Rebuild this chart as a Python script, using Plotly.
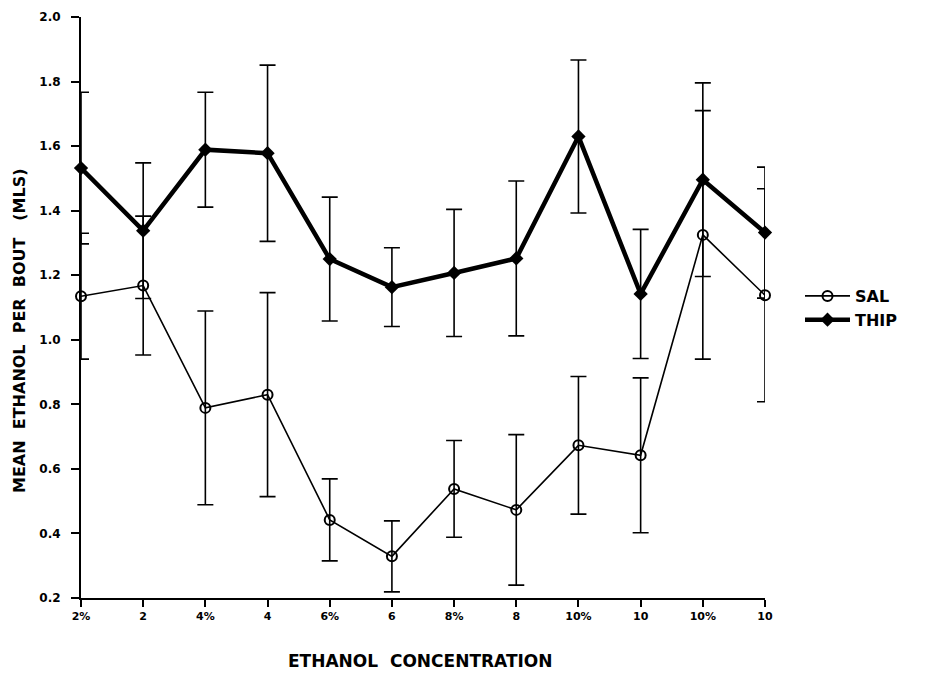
import plotly.graph_objects as go

categories = ["2%", "2", "4%", "4", "6%", "6", "8%", "8", "10%", "10", "10%", "10"]
sal_mean = [1.135, 1.168, 0.789, 0.830, 0.442, 0.329, 0.538, 0.473, 0.673, 0.642, 1.325, 1.138]
sal_err = [0.195, 0.215, 0.300, 0.316, 0.127, 0.110, 0.150, 0.233, 0.213, 0.240, 0.385, 0.330]
thip_mean = [1.532, 1.338, 1.589, 1.578, 1.250, 1.163, 1.207, 1.252, 1.630, 1.142, 1.496, 1.332]
thip_err = [0.235, 0.210, 0.178, 0.273, 0.192, 0.122, 0.197, 0.240, 0.237, 0.200, 0.300, 0.203]
y_ticks = [0.2, 0.4, 0.6, 0.8, 1.0, 1.2, 1.4, 1.6, 1.8, 2.0]

xpos = list(range(len(categories)))
FONT = "DejaVu Sans"

# page body has an 8px margin; plot area target (window px): x 81..765, y 17..598
OFF = 8
L, R, T, B = 81 - OFF, 949 - (765 - OFF), 17 - OFF, 681 - (598 - OFF)

fig = go.Figure()
fig.add_trace(go.Scatter(
    x=xpos, y=sal_mean, name="SAL", mode="lines+markers",
    line=dict(color="black", width=1.6),
    marker=dict(symbol="circle-open", size=10, color="black", line=dict(width=2)),
    error_y=dict(type="data", array=sal_err, visible=True, color="black", thickness=1.6, width=8),
    cliponaxis=False,
))
fig.add_trace(go.Scatter(
    x=xpos, y=thip_mean, name="THIP", mode="lines+markers",
    line=dict(color="black", width=4.5),
    marker=dict(symbol="diamond", size=11, color="black"),
    error_y=dict(type="data", array=thip_err, visible=True, color="black", thickness=1.6, width=8),
    cliponaxis=False,
))

pw = 949 - L - R
ph = 681 - T - B

def px2paper(px, py):
    return (px - OFF - L) / pw, (681 - B - (py - OFF)) / ph

ax_x, ax_y = px2paper(420, 661)
ay_x, ay_y = px2paper(19, 331)
lg_x, lg_y = px2paper(800, 308)

fig.update_layout(
    width=949, height=681,
    margin=dict(l=L, r=R, t=T, b=B, autoexpand=False),
    paper_bgcolor="white", plot_bgcolor="white",
    font=dict(family=FONT, color="black"),
    showlegend=True,
    legend=dict(x=lg_x, y=lg_y, xanchor="left", yanchor="middle",
                font=dict(family=FONT, size=16, color="black", weight="bold"),
                bgcolor="rgba(0,0,0,0)", itemwidth=45, tracegroupgap=2),
    xaxis=dict(range=[0, 11], tickvals=xpos, ticktext=categories, automargin=False,
               showgrid=False, zeroline=False, showline=True, linecolor="black", linewidth=2,
               ticks="outside", ticklen=7, tickwidth=2, tickcolor="black",
               ticklabeloverflow="allow",
               tickfont=dict(family=FONT, size=11, color="black", weight="bold")),
    yaxis=dict(range=[0.2, 2.0], tickvals=y_ticks, ticktext=[f"{v:.1f}" for v in y_ticks],
               automargin=False,
               showgrid=False, zeroline=False, showline=True, linecolor="black", linewidth=2,
               ticks="outside", ticklen=8, tickwidth=2, tickcolor="black",
               ticklabelstandoff=8, ticklabeloverflow="allow",
               tickfont=dict(family=FONT, size=12, color="black", weight="bold")),
    annotations=[
        dict(text="ETHANOL  CONCENTRATION", x=ax_x, y=ax_y, xref="paper", yref="paper",
             xanchor="center", yanchor="middle", showarrow=False,
             font=dict(family=FONT, size=17, color="black", weight="bold")),
        dict(text="MEAN  ETHANOL  PER  BOUT   (MLS)", x=ay_x, y=ay_y, xref="paper", yref="paper",
             xanchor="center", yanchor="middle", showarrow=False, textangle=-90,
             font=dict(family=FONT, size=16, color="black", weight="bold")),
    ],
)

fig.write_html("out.html")
